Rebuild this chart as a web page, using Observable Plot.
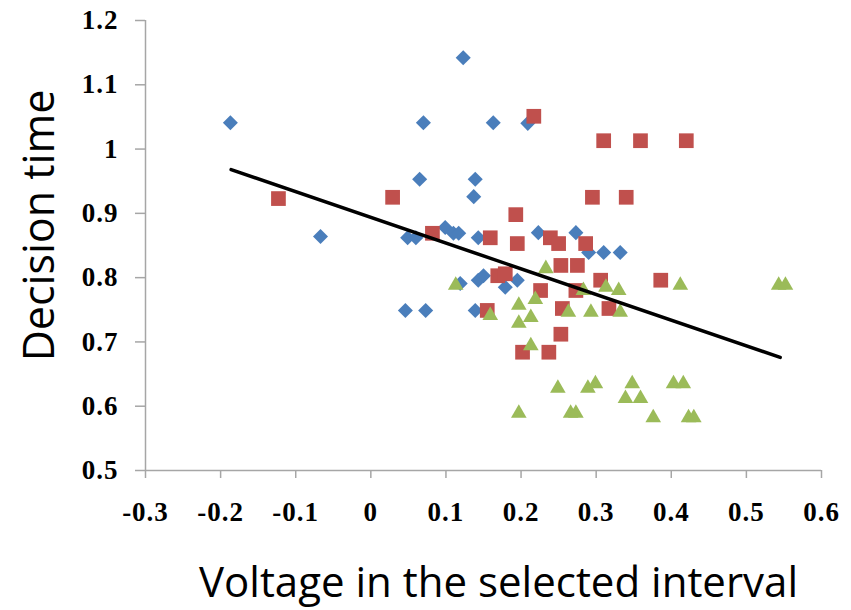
<!DOCTYPE html>
<html>
<head>
<meta charset="utf-8">
<script src="https://cdn.jsdelivr.net/npm/d3@7"></script>
<script src="https://cdn.jsdelivr.net/npm/@observablehq/plot@0.6"></script>
<style>
  html, body { margin: 0; padding: 0; background: #fff; }
  #chart svg { display: block; }
  g[aria-label="x-axis tick label"] text, g[aria-label="y-axis tick label"] text {
    font-family: "Liberation Serif", "Times New Roman", serif;
    font-weight: bold;
    font-size: 27px;
    letter-spacing: 1px;
  }
</style>
</head>
<body>
<div id="chart"></div>
<script>
// Series 1 (blue diamonds)
const blueX = [-0.187, -0.067, 0.123, 0.070, 0.163, 0.209, 0.065, 0.139, 0.137, 0.049, 0.060, 0.099, 0.110, 0.117, 0.143, 0.223, 0.273, 0.290, 0.310, 0.332, 0.143, 0.150, 0.119, 0.195, 0.179, 0.046, 0.073, 0.139];
const blueY = [1.041, 0.864, 1.142, 1.041, 1.041, 1.040, 0.953, 0.953, 0.926, 0.862, 0.862, 0.878, 0.869, 0.869, 0.862, 0.870, 0.870, 0.839, 0.839, 0.839, 0.796, 0.803, 0.791, 0.796, 0.785, 0.749, 0.749, 0.749];
// Series 2 (red squares)
const redX = [-0.123, 0.029, 0.217, 0.310, 0.359, 0.420, 0.295, 0.340, 0.193, 0.082, 0.159, 0.195, 0.239, 0.250, 0.286, 0.253, 0.275, 0.169, 0.179, 0.226, 0.155, 0.306, 0.386, 0.273, 0.255, 0.317, 0.253, 0.202, 0.237];
const redY = [0.923, 0.925, 1.051, 1.013, 1.013, 1.013, 0.925, 0.925, 0.898, 0.869, 0.862, 0.853, 0.862, 0.853, 0.853, 0.819, 0.819, 0.803, 0.806, 0.780, 0.749, 0.796, 0.796, 0.780, 0.752, 0.752, 0.712, 0.684, 0.684];
// Series 3 (green triangles)
const greenX = [0.113, 0.159, 0.197, 0.219, 0.213, 0.197, 0.213, 0.233, 0.263, 0.283, 0.293, 0.313, 0.330, 0.332, 0.412, 0.543, 0.552, 0.249, 0.289, 0.299, 0.348, 0.339, 0.359, 0.403, 0.416, 0.197, 0.266, 0.273, 0.376, 0.423, 0.430];
const greenY = [0.788, 0.741, 0.757, 0.766, 0.738, 0.729, 0.694, 0.814, 0.746, 0.780, 0.746, 0.785, 0.780, 0.746, 0.788, 0.788, 0.788, 0.628, 0.628, 0.635, 0.635, 0.612, 0.612, 0.635, 0.635, 0.589, 0.589, 0.589, 0.582, 0.582, 0.582];
// Trend line end points
const trendX = [-0.186, 0.545];
const trendY = [0.968, 0.676];
// Ticks
const xTicks = [-0.3, -0.2, -0.1, 0, 0.1, 0.2, 0.3, 0.4, 0.5, 0.6];
const xTickLabels = ["-0.3", "-0.2", "-0.1", "0", "0.1", "0.2", "0.3", "0.4", "0.5", "0.6"];
const yTicks = [0.5, 0.6, 0.7, 0.8, 0.9, 1.0, 1.1, 1.2];
const yTickLabels = ["0.5", "0.6", "0.7", "0.8", "0.9", "1", "1.1", "1.2"];
const xTitle = "Voltage in the selected interval";
const yTitle = "Decision time";

const toRows = (xs, ys) => xs.map((x, i) => ({x, y: ys[i]}));
const blue = toRows(blueX, blueY);
const red = toRows(redX, redY);
const green = toRows(greenX, greenY);
const trend = toRows(trendX, trendY);

const diamond = {
  draw(context, size) {
    const h = Math.sqrt(size / 2);
    context.moveTo(0, -h);
    context.lineTo(h, 0);
    context.lineTo(0, h);
    context.lineTo(-h, 0);
    context.closePath();
  }
};

const axisGray = "#a6a6a6";
const chart = Plot.plot({
  width: 851,
  height: 610,
  marginLeft: 145,
  marginRight: 30,
  marginTop: 20,
  marginBottom: 140,
  style: {background: "white", overflow: "visible"},
  x: {domain: [-0.3, 0.6]},
  y: {domain: [0.5, 1.2]},
  marks: [
    Plot.axisX({ticks: xTicks, tickSize: 8, tickPadding: 23, tickFormat: d => xTickLabels[xTicks.findIndex(t => Math.abs(t - d) < 1e-9)],
      stroke: axisGray, strokeWidth: 1.5, fill: "black", label: null}),
    Plot.axisY({ticks: yTicks, tickSize: 10, tickPadding: 17, tickFormat: d => yTickLabels[yTicks.findIndex(t => Math.abs(t - d) < 1e-9)],
      stroke: axisGray, strokeWidth: 1.5, fill: "black", label: null}),
    Plot.ruleY([0.5], {stroke: axisGray, strokeWidth: 1.5}),
    Plot.ruleX([-0.3], {stroke: axisGray, strokeWidth: 1.5}),
    Plot.dot(blue, {x: "x", y: "y", symbol: diamond, r: 6, fill: "#4a7ebb", stroke: "none"}),
    Plot.dot(red, {x: "x", y: "y", symbol: "square", r: 8.3, fill: "#c0504d", stroke: "none"}),
    Plot.dot(green, {x: "x", y: "y", symbol: "triangle", r: 5.8, fill: "#9bbb59", stroke: "none"}),
    Plot.line(trend, {x: "x", y: "y", stroke: "black", strokeWidth: 3.5}),
    Plot.text([xTitle], {frameAnchor: "bottom", dx: 15, dy: 113, lineAnchor: "middle", textAnchor: "middle", text: d => d, fontFamily: "Open Sans, Liberation Sans, sans-serif", fontSize: 42, fill: "black"}),
    Plot.text([yTitle], {frameAnchor: "left", dx: -105, dy: -20, rotate: -90, lineAnchor: "middle", textAnchor: "middle", text: d => d, fontFamily: "Open Sans, Liberation Sans, sans-serif", fontSize: 43, fill: "black"})
  ]
});
document.getElementById("chart").appendChild(chart);
</script>
</body>
</html>
